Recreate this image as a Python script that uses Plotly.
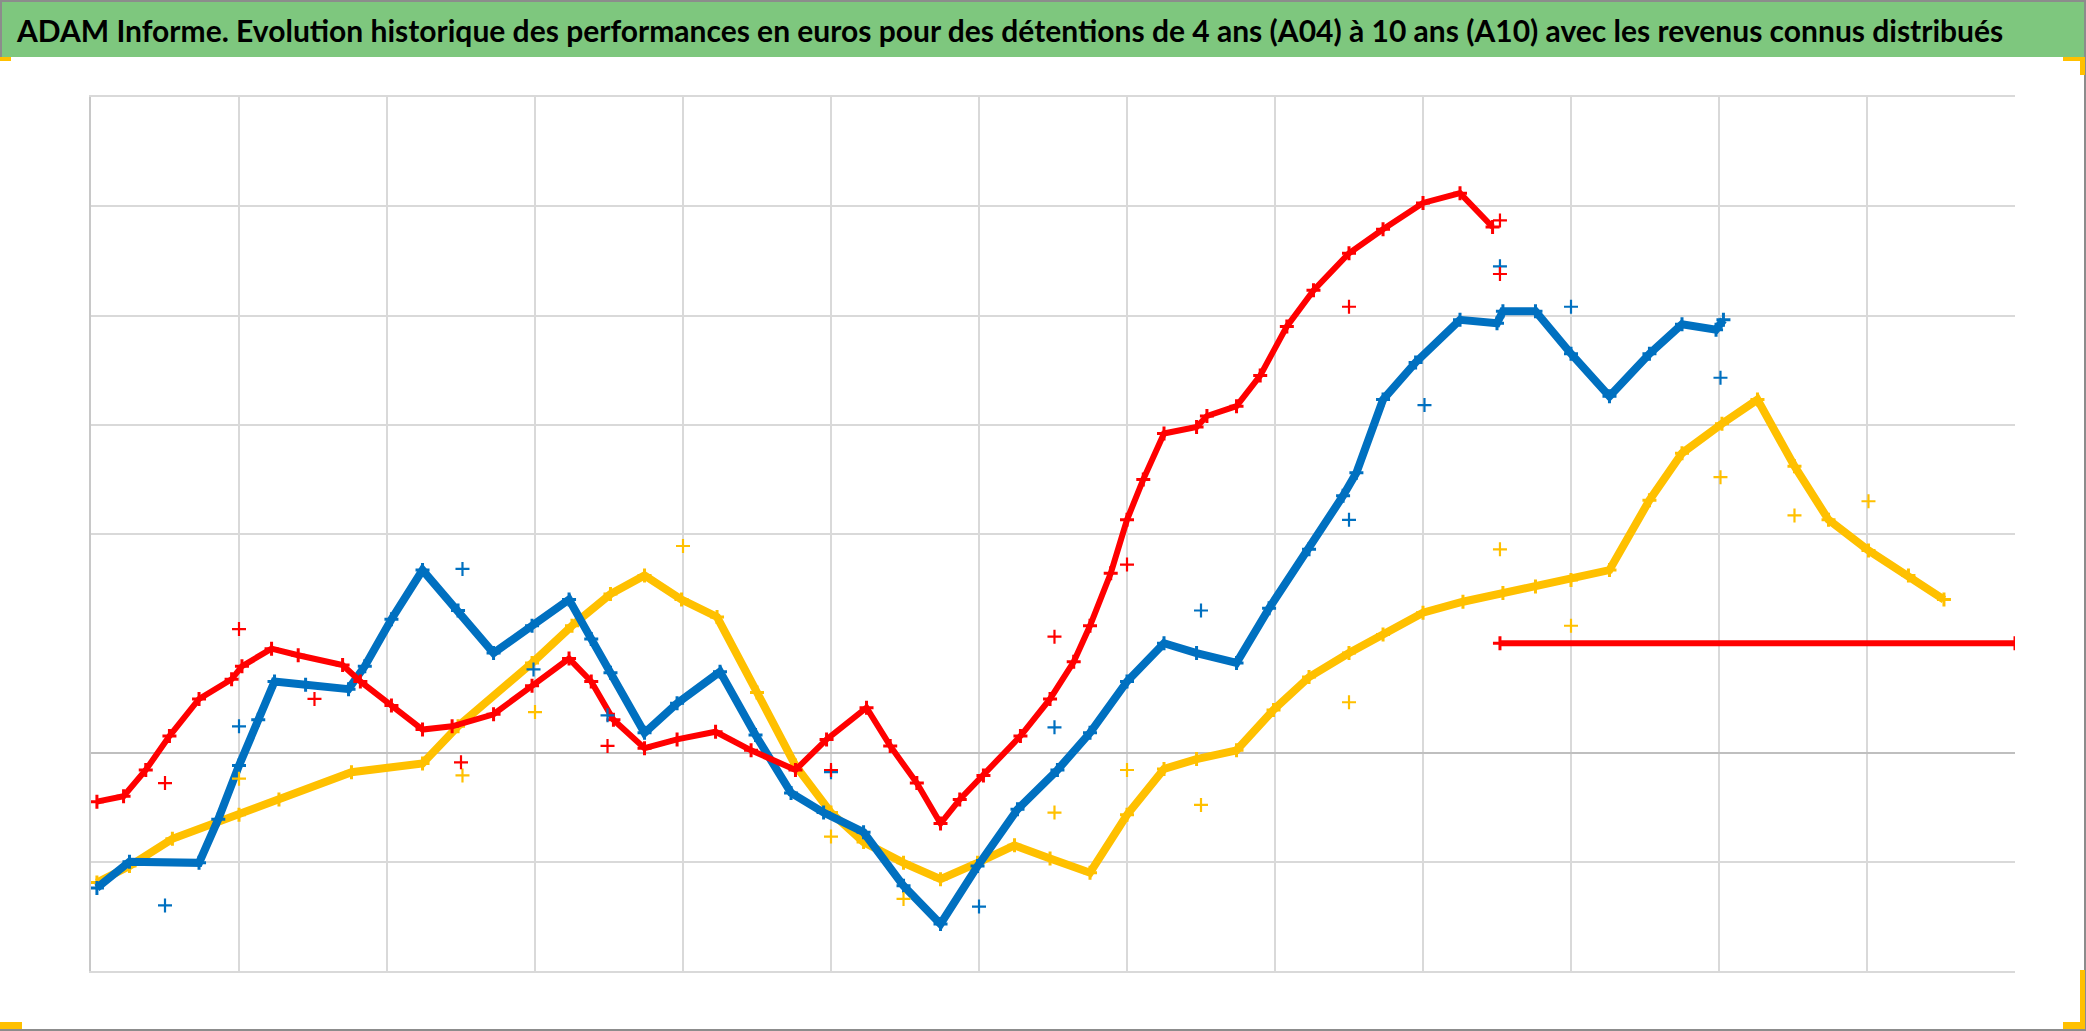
import plotly.graph_objects as go

# ---------------- data (x in grid intervals, y in gridline units) ----------------
red_x = [0.04, 0.22, 0.37, 0.53, 0.73, 0.95, 1.02, 1.22, 1.40, 1.70, 1.82, 2.03, 2.24, 2.44, 2.72,
         2.98, 3.23, 3.38, 3.53, 3.74, 3.96, 4.22, 4.46, 4.76, 4.97, 5.24, 5.40, 5.58, 5.74, 5.87,
         6.03, 6.28, 6.48, 6.64, 6.75, 6.89, 7.00, 7.11, 7.25, 7.47, 7.54, 7.74, 7.90, 8.08, 8.26,
         8.50, 8.73, 9.00, 9.25, 9.47]
red_y = [-0.45, -0.40, -0.16, 0.15, 0.49, 0.67, 0.79, 0.95, 0.89, 0.80, 0.65, 0.43, 0.21, 0.24, 0.35,
         0.61, 0.86, 0.65, 0.30, 0.04, 0.12, 0.19, 0.02, -0.16, 0.12, 0.41, 0.06, -0.28, -0.65, -0.43,
         -0.21, 0.15, 0.49, 0.83, 1.16, 1.64, 2.13, 2.50, 2.92, 2.98, 3.08, 3.17, 3.45, 3.90, 4.23,
         4.57, 4.79, 5.03, 5.12, 4.81]
red_out_x = [0.50, 1.00, 1.51, 2.50, 3.49, 5.00, 6.51, 7.00, 8.50, 9.52, 9.52]
red_out_y = [-0.28, 1.13, 0.49, -0.09, 0.06, -0.16, 1.06, 1.72, 4.08, 4.38, 4.87]
red_flat_x = [9.52, 13.0]
red_flat_y = [1.0, 1.0]

blue_x = [0.04, 0.26, 0.73, 0.86, 1.00, 1.13, 1.24, 1.45, 1.74, 1.85, 2.03, 2.24, 2.48, 2.72, 2.98,
          3.23, 3.38, 3.51, 3.74, 3.96, 4.25, 4.49, 4.73, 4.95, 5.22, 5.49, 5.74, 5.99, 6.26, 6.53,
          6.75, 7.00, 7.25, 7.47, 7.74, 7.96, 8.23, 8.46, 8.55, 8.73, 8.95, 9.25, 9.50, 9.54, 9.76,
          10.00, 10.26, 10.53, 10.75, 10.98, 11.03]
blue_y = [-1.24, -1.00, -1.01, -0.61, -0.12, 0.30, 0.65, 0.62, 0.58, 0.79, 1.22, 1.67, 1.30, 0.91, 1.16,
          1.40, 1.04, 0.73, 0.18, 0.45, 0.74, 0.16, -0.37, -0.55, -0.73, -1.22, -1.57, -1.04, -0.52, -0.16,
          0.18, 0.65, 1.00, 0.91, 0.82, 1.32, 1.86, 2.35, 2.56, 3.23, 3.57, 3.96, 3.93, 4.04, 4.04,
          3.65, 3.26, 3.65, 3.92, 3.87, 3.96]
blue_out_x = [0.50, 1.00, 2.51, 2.99, 3.49, 5.00, 6.00, 6.51, 7.50, 8.50, 9.01, 9.52, 10.00, 11.01]
blue_out_y = [-1.40, 0.24, 1.68, 0.76, 0.34, -0.18, -1.41, 0.23, 1.30, 2.13, 3.18, 4.45, 4.08, 3.43]

yellow_x = [0.04, 0.26, 0.55, 1.00, 1.27, 1.76, 2.24, 2.48, 2.98, 3.25, 3.51, 3.74, 3.99, 4.23, 4.50,
            4.76, 5.00, 5.22, 5.49, 5.74, 5.99, 6.24, 6.48, 6.75, 7.00, 7.25, 7.47, 7.74, 7.99, 8.23,
            8.50, 8.73, 9.00, 9.27, 9.54, 9.76, 10.00, 10.26, 10.53, 10.75, 11.02, 11.26, 11.51, 11.74,
            12.01, 12.28, 12.52]
yellow_y = [-1.19, -1.04, -0.79, -0.57, -0.43, -0.18, -0.10, 0.24, 0.82, 1.16, 1.45, 1.62, 1.40, 1.24, 0.55,
            -0.12, -0.55, -0.82, -1.01, -1.16, -1.01, -0.85, -0.97, -1.10, -0.57, -0.15, -0.06, 0.02, 0.39, 0.69,
            0.91, 1.08, 1.28, 1.38, 1.46, 1.52, 1.58, 1.67, 2.31, 2.74, 3.01, 3.23, 2.62, 2.13,
            1.85, 1.62, 1.40]
yellow_out_x = [1.00, 2.51, 3.00, 4.00, 5.00, 5.49, 6.51, 7.00, 7.50, 8.50, 9.52, 10.00, 11.01, 11.51, 12.01]
yellow_out_y = [-0.24, -0.21, 0.37, 1.89, -0.77, -1.34, -0.55, -0.16, -0.48, 0.46, 1.86, 1.16, 2.52, 2.17, 2.30]

x_grid = list(range(0, 13))
y_grid = [-2, -1, 0, 2, 3, 4, 5, 6]

TITLE = ("ADAM Informe. Evolution historique des performances en euros pour des détentions "
         "de 4 ans (A04) à 10 ans (A10) avec les revenus connus distribués")

RED, BLUE, YELLOW = "#FF0000", "#0070C0", "#FFC000"

# ---------------- layout geometry (pixels) ----------------
W, H = 2086, 1031
L, R, T, B = 91, 2015, 97, 971
BAR_H = 57


def px(xp):
    return (xp - L) / (R - L)


def py(yp):
    return (B - yp) / (B - T)


fig = go.Figure()


def band(xs, ys, color, width):
    fig.add_trace(go.Scatter(
        x=xs, y=ys, mode="lines+markers",
        line=dict(color=color, width=width),
        marker=dict(symbol="cross-thin", size=10, line=dict(color=color, width=3)),
        hoverinfo="skip", showlegend=False))


def outl(xs, ys, color):
    fig.add_trace(go.Scatter(
        x=xs, y=ys, mode="markers",
        marker=dict(symbol="cross-thin", size=10, line=dict(color=color, width=2.2)),
        hoverinfo="skip", showlegend=False))


band(yellow_x, yellow_y, YELLOW, 8)
band(blue_x, blue_y, BLUE, 8)
band(red_x, red_y, RED, 6)
band(red_flat_x, red_flat_y, RED, 6)
outl(yellow_out_x, yellow_out_y, YELLOW)
outl(blue_out_x, blue_out_y, BLUE)
outl(red_out_x, red_out_y, RED)

ORANGE = "#FFC000"
shapes = [
    # title bar
    dict(type="rect", xref="paper", yref="paper", x0=px(0), x1=px(W), y0=py(0), y1=py(BAR_H),
         fillcolor="#7EC77E", line=dict(width=0), layer="below"),
    # outer frame (gray)
    dict(type="line", xref="paper", yref="paper", x0=px(W - 1), x1=px(W - 1), y0=py(0), y1=py(H),
         line=dict(color="#8c8c8c", width=2)),
    dict(type="line", xref="paper", yref="paper", x0=px(0), x1=px(W), y0=py(H - 1), y1=py(H - 1),
         line=dict(color="#8c8c8c", width=2)),
    dict(type="line", xref="paper", yref="paper", x0=px(0), x1=px(W), y0=py(1), y1=py(1),
         line=dict(color="#8c8c8c", width=2)),
    dict(type="line", xref="paper", yref="paper", x0=px(1), x1=px(1), y0=py(0), y1=py(BAR_H),
         line=dict(color="#8c8c8c", width=2)),
    # orange selection marks
    dict(type="rect", xref="paper", yref="paper", x0=px(0), x1=px(11), y0=py(BAR_H), y1=py(BAR_H + 4),
         fillcolor=ORANGE, line=dict(width=0)),
    dict(type="rect", xref="paper", yref="paper", x0=px(2063), x1=px(2085), y0=py(BAR_H), y1=py(BAR_H + 4),
         fillcolor=ORANGE, line=dict(width=0)),
    dict(type="rect", xref="paper", yref="paper", x0=px(2080), x1=px(2085), y0=py(BAR_H), y1=py(BAR_H + 18),
         fillcolor=ORANGE, line=dict(width=0)),
    dict(type="rect", xref="paper", yref="paper", x0=px(0), x1=px(22), y0=py(1022), y1=py(1029),
         fillcolor=ORANGE, line=dict(width=0)),
    dict(type="rect", xref="paper", yref="paper", x0=px(2063), x1=px(2085), y0=py(1022), y1=py(1029),
         fillcolor=ORANGE, line=dict(width=0)),
    dict(type="rect", xref="paper", yref="paper", x0=px(2080), x1=px(2085), y0=py(970), y1=py(1029),
         fillcolor=ORANGE, line=dict(width=0)),
]

fig.update_layout(
    width=W, height=H,
    margin=dict(l=L, r=W - R, t=T, b=H - B, pad=0),
    paper_bgcolor="white", plot_bgcolor="white",
    shapes=shapes,
    annotations=[dict(
        text="<b>" + TITLE + "</b>", xref="paper", yref="paper",
        x=px(1009), y=py(BAR_H / 2 + 1), xanchor="center", yanchor="middle", showarrow=False,
        font=dict(family="Lato, Roboto, sans-serif", size=30, color="black"))],
    xaxis=dict(range=[0, 13], tickvals=x_grid, showticklabels=False, showgrid=True,
               gridcolor="#d9d9d9", gridwidth=2, zeroline=False,
               showline=True, mirror=True, linecolor="#d9d9d9", linewidth=2, ticks=""),
    yaxis=dict(range=[-2, 6], tickvals=y_grid, showticklabels=False, showgrid=True,
               gridcolor="#d9d9d9", gridwidth=2, zeroline=True, zerolinecolor="#bfbfbf",
               zerolinewidth=2, showline=True, linecolor="#c8c8c8", linewidth=2, ticks=""),
)

fig.write_html("out.html",
               config={"displayModeBar": False},
               post_script="document.body.style.margin='0';document.body.style.overflow='hidden';")
